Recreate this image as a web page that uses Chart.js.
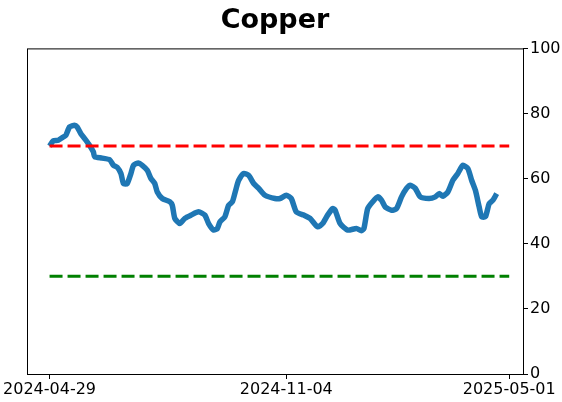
<!DOCTYPE html>
<html>
<head>
<meta charset="utf-8">
<script src="https://cdn.jsdelivr.net/npm/chart.js@4"></script>
<style>
  body { margin: 0; background: #fff; }
  #wrap { width: 562px; height: 402px; }
</style>
</head>
<body>
<div id="wrap"><canvas id="copperChart" width="562" height="402"></canvas></div>
<script>
// days since 2024-04-29 and the indicator value
const dayOffsets = [0, 3, 7, 11, 13, 16, 20, 22, 25, 28, 32, 35, 36, 42, 48, 51, 54, 57, 59, 62,
  65, 67, 71, 74, 78, 81, 84, 86, 90, 96, 98, 100, 104, 108, 113, 119, 124, 127, 131, 134,
  136, 140, 143, 146, 149, 151, 155, 159, 163, 167, 172, 180, 184, 189, 193, 197, 203, 208, 214, 218,
  222, 226, 228, 232, 238, 245, 249, 251, 254, 258, 262, 265, 268, 273, 277, 281, 285, 288, 292, 296,
  303, 308, 311, 314, 318, 322, 326, 330, 334, 337, 340, 343, 345, 348, 351, 354, 357];
const copperValues = [70.0, 71.6, 71.8, 72.8, 73.3, 75.9, 76.4, 75.9, 73.8, 72.3, 70.2, 68.2, 66.7, 66.3, 65.8, 64.1, 63.5, 61.6, 58.5, 58.5,
  61.6, 64.1, 64.8, 64.1, 62.6, 60.0, 58.5, 55.9, 53.9, 52.9, 51.8, 47.8, 46.2, 47.8, 48.8, 49.8, 48.8, 46.2, 44.2, 44.7,
  46.7, 48.3, 51.8, 52.9, 57.0, 59.5, 61.6, 61.0, 58.5, 57.0, 54.9, 53.9, 53.9, 54.9, 53.9, 49.8, 48.8, 47.8, 45.2, 46.2,
  48.8, 50.8, 50.3, 46.2, 44.2, 44.7, 44.0, 44.7, 50.8, 52.9, 54.4, 53.4, 51.3, 50.3, 50.8, 54.4, 57.0, 58.0, 57.0, 54.4,
  53.9, 54.4, 55.4, 54.6, 55.9, 59.5, 61.6, 64.1, 63.1, 59.5, 56.4, 51.3, 48.3, 48.3, 52.3, 53.4, 55.4];

const upperLevel = 70;
const lowerLevel = 30;
const levelSpan = [0, 367];

const xTickDays = [0, 189, 367];
const xTickLabels = ['2024-04-29', '2024-11-04', '2025-05-01'];
const yTicks = [0, 20, 40, 60, 80, 100];

const frame = {
  id: 'frame',
  afterDraw(chart) {
    const a = chart.chartArea;
    const c = chart.ctx;
    c.save();
    c.strokeStyle = '#000';
    c.lineWidth = 1;
    c.strokeRect(a.left + 0.5, a.top + 0.5, a.right - a.left, a.bottom - a.top);
    c.restore();
  }
};

const ctx = document.getElementById('copperChart').getContext('2d');
new Chart(ctx, {
  type: 'line',
  data: {
    datasets: [
      {
        data: dayOffsets.map((d, i) => ({ x: d, y: copperValues[i] })),
        borderColor: '#1f77b4',
        borderWidth: 5.5,
        pointRadius: 0,
        tension: 0.2,
        order: 2
      },
      {
        data: levelSpan.map(d => ({ x: d, y: upperLevel })),
        borderColor: '#ff0000',
        borderWidth: 3,
        borderDash: [13, 5],
        pointRadius: 0,
        order: 1
      },
      {
        data: levelSpan.map(d => ({ x: d, y: lowerLevel })),
        borderColor: '#008000',
        borderWidth: 3,
        borderDash: [13, 5],
        pointRadius: 0,
        order: 1
      }
    ]
  },
  options: {
    responsive: false,
    animation: false,
    layout: { padding: { left: 27, right: 0, top: 0, bottom: 0 } },
    plugins: {
      legend: { display: false },
      tooltip: { enabled: false },
      title: {
        display: true,
        text: 'Copper',
        fullSize: false,
        color: '#000',
        font: { family: 'DejaVu Sans', size: 27, weight: 'bold' },
        padding: { top: 5, bottom: 11 }
      }
    },
    scales: {
      x: {
        type: 'linear',
        min: -18,
        max: 378,
        grid: { display: true, drawOnChartArea: false, drawTicks: true, tickLength: 5, color: '#000' },
        border: { display: true, color: '#000' },
        afterBuildTicks: s => { s.ticks = xTickDays.map(v => ({ value: v })); },
        afterFit: s => { s.height = 28; },
        ticks: {
          autoSkip: false,
          maxRotation: 0,
          padding: 1,
          color: '#000',
          font: { family: 'DejaVu Sans', size: 16 },
          callback: v => xTickLabels[xTickDays.indexOf(v)]
        }
      },
      y: {
        position: 'right',
        min: 0,
        max: 100,
        grid: { display: true, drawOnChartArea: false, drawTicks: true, tickLength: 5, color: '#000' },
        border: { display: true, color: '#000' },
        afterBuildTicks: s => { s.ticks = yTicks.map(v => ({ value: v })); },
        afterFit: s => { s.width = 39; },
        ticks: {
          padding: 2,
          color: '#000',
          font: { family: 'DejaVu Sans', size: 16 }
        }
      }
    }
  },
  plugins: [frame]
});
</script>
</body>
</html>
